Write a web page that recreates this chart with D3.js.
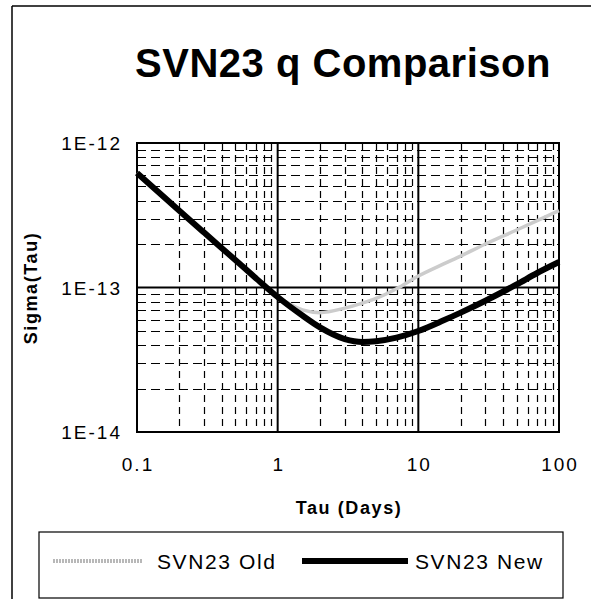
<!DOCTYPE html>
<html>
<head>
<meta charset="utf-8">
<script src="https://cdn.jsdelivr.net/npm/d3@7"></script>
<style>
  body { margin: 0; background: #fff; }
  svg { display: block; font-family: "Liberation Sans", Arial, sans-serif; }
  .tick-label { font-size: 19px; letter-spacing: 2px; fill: #000; }
  .axis-title { font-size: 18px; font-weight: bold; letter-spacing: 1.6px; fill: #000; }
  .legend-text { font-size: 21px; letter-spacing: 1.6px; fill: #000; }
</style>
</head>
<body>
<div class="chart"></div>
<script>
// tau values (days) and the two Allan deviation series
var tau = [0.1, 0.2, 0.3, 0.5, 0.7, 1, 1.5, 2, 3, 4, 5, 7, 10, 15, 20, 30, 50, 70, 100];
var sigmaNew = [6.2e-13, 3.4e-13, 2.4e-13, 1.55e-13, 1.16e-13, 8.6e-14, 6.4e-14, 5.3e-14, 4.4e-14, 4.2e-14, 4.25e-14, 4.5e-14, 5.0e-14, 5.9e-14, 6.7e-14, 8.1e-14, 1.05e-13, 1.26e-13, 1.5e-13];
var sigmaOld = [6.2e-13, 3.4e-13, 2.4e-13, 1.55e-13, 1.16e-13, 8.7e-14, 7.0e-14, 6.7e-14, 7.2e-14, 7.8e-14, 8.4e-14, 9.8e-14, 1.2e-13, 1.45e-13, 1.65e-13, 2.0e-13, 2.5e-13, 2.9e-13, 3.4e-13];

var xTicks = [0.1, 1, 10, 100];
var xTickLabels = ["0.1", "1", "10", "100"];
var yTicks = [1e-14, 1e-13, 1e-12];
var yTickLabels = ["1E-14", "1E-13", "1E-12"];

var seriesNames = ["SVN23 Old", "SVN23 New"];

var svgWidth = 591;
var svgHeight = 599;

var plot = { left: 137, right: 559, top: 143, bottom: 432 };

var svg = d3.select(".chart")
  .append("svg")
  .attr("width", svgWidth)
  .attr("height", svgHeight);

// outer frame (only top and left edges visible in the picture)
svg.append("line").attr("x1", 12).attr("y1", 6).attr("x2", 591).attr("y2", 6)
  .attr("stroke", "#000").attr("stroke-width", 1.5);
svg.append("line").attr("x1", 12).attr("y1", 6).attr("x2", 12).attr("y2", 599)
  .attr("stroke", "#000").attr("stroke-width", 1.5);

// title
svg.append("text")
  .attr("x", 343)
  .attr("y", 77)
  .attr("text-anchor", "middle")
  .style("font-size", "40px")
  .style("font-weight", "bold")
  .style("letter-spacing", "0.5px")
  .text("SVN23 q Comparison");

var x = d3.scaleLog().domain([0.1, 100]).range([plot.left, plot.right]);
var y = d3.scaleLog().domain([1e-14, 1e-12]).range([plot.bottom, plot.top]);

var plotH = plot.bottom - plot.top;
var plotW = plot.right - plot.left;

// minor grid (2..9 in each decade), dashed
var minorX = x.ticks().filter(function(d) { return xTicks.indexOf(d) < 0; });
var minorY = y.ticks().filter(function(d) { return yTicks.indexOf(d) < 0; });

var grid = svg.append("g");
grid.selectAll(".vminor").data(minorX).enter().append("line")
  .attr("x1", function(d) { return Math.round(x(d)) + 0.5; })
  .attr("x2", function(d) { return Math.round(x(d)) + 0.5; })
  .attr("y1", plot.top).attr("y2", plot.bottom)
  .attr("stroke", "#000").attr("stroke-width", 1.2)
  .attr("stroke-dasharray", "7,5");
grid.selectAll(".hminor").data(minorY).enter().append("line")
  .attr("y1", function(d) { return Math.round(y(d)) + 0.5; })
  .attr("y2", function(d) { return Math.round(y(d)) + 0.5; })
  .attr("x1", plot.left).attr("x2", plot.right)
  .attr("stroke", "#000").attr("stroke-width", 1.2)
  .attr("stroke-dasharray", "9,5");

// major grid, solid
grid.selectAll(".vmajor").data(xTicks).enter().append("line")
  .attr("x1", function(d) { return x(d); })
  .attr("x2", function(d) { return x(d); })
  .attr("y1", plot.top).attr("y2", plot.bottom)
  .attr("stroke", "#000").attr("stroke-width", 2);
grid.selectAll(".hmajor").data(yTicks).enter().append("line")
  .attr("y1", function(d) { return y(d); })
  .attr("y2", function(d) { return y(d); })
  .attr("x1", plot.left).attr("x2", plot.right)
  .attr("stroke", "#000").attr("stroke-width", 2);

svg.append("rect")
  .attr("x", plot.left).attr("y", plot.top)
  .attr("width", plotW).attr("height", plotH)
  .attr("fill", "none").attr("stroke", "#000").attr("stroke-width", 2);

// tick labels
svg.selectAll(".xlab").data(xTicks).enter().append("text")
  .attr("class", "tick-label")
  .attr("x", function(d) { return x(d) + 1; })
  .attr("y", 471)
  .attr("text-anchor", "middle")
  .text(function(d, i) { return xTickLabels[i]; });

svg.selectAll(".ylab").data(yTicks).enter().append("text")
  .attr("class", "tick-label")
  .attr("x", 122)
  .attr("y", function(d) { return y(d) + 7; })
  .attr("text-anchor", "end")
  .text(function(d, i) { return yTickLabels[i]; });

// axis titles
svg.append("text")
  .attr("class", "axis-title")
  .attr("transform", "translate(37,288) rotate(-90)")
  .attr("text-anchor", "middle")
  .text("Sigma(Tau)");

svg.append("text")
  .attr("class", "axis-title")
  .attr("x", 349)
  .attr("y", 514)
  .attr("text-anchor", "middle")
  .text("Tau (Days)");

// series
var line = d3.line()
  .x(function(d) { return x(d[0]); })
  .y(function(d) { return y(d[1]); })
  .curve(d3.curveMonotoneX);

var oldData = tau.map(function(t, i) { return [t, sigmaOld[i]]; });
var newData = tau.map(function(t, i) { return [t, sigmaNew[i]]; });

svg.append("path")
  .datum(oldData)
  .attr("d", line)
  .attr("fill", "none")
  .attr("stroke", "#cccccc")
  .attr("stroke-width", 3.5);

svg.append("path")
  .datum(newData)
  .attr("d", line)
  .attr("fill", "none")
  .attr("stroke", "#000")
  .attr("stroke-width", 6);

// legend
svg.append("rect")
  .attr("x", 39).attr("y", 532)
  .attr("width", 524).attr("height", 66)
  .attr("fill", "none").attr("stroke", "#000").attr("stroke-width", 1.2);

svg.append("line").attr("x1", 53).attr("x2", 142).attr("y1", 561).attr("y2", 561)
  .attr("stroke", "#b8b8b8").attr("stroke-width", 4)
  .attr("stroke-dasharray", "2,1");
svg.append("text").attr("class", "legend-text")
  .attr("x", 157).attr("y", 569).text(seriesNames[0]);

svg.append("line").attr("x1", 302).attr("x2", 408).attr("y1", 561).attr("y2", 561)
  .attr("stroke", "#000").attr("stroke-width", 6);
svg.append("text").attr("class", "legend-text")
  .attr("x", 415).attr("y", 569).text(seriesNames[1]);
</script>
</body>
</html>
